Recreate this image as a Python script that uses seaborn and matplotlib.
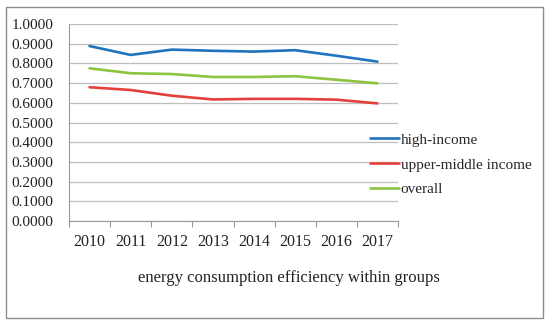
import matplotlib
matplotlib.use("Agg")
import matplotlib.pyplot as plt
import seaborn as sns
import pandas as pd
from matplotlib.patches import Rectangle
from matplotlib.lines import Line2D

years = ["2010", "2011", "2012", "2013", "2014", "2015", "2016", "2017"]
high_income = [0.888, 0.843, 0.870, 0.864, 0.860, 0.867, 0.839, 0.809]
upper_middle = [0.679, 0.665, 0.636, 0.617, 0.620, 0.620, 0.616, 0.597]
overall = [0.775, 0.750, 0.746, 0.731, 0.731, 0.735, 0.717, 0.699]
series_names = ["high-income", "upper-middle income", "overall"]
yticks = [0.0, 0.1, 0.2, 0.3, 0.4, 0.5, 0.6, 0.7, 0.8, 0.9, 1.0]
title = "energy consumption efficiency within groups"

colors = ["#1f74bd", "#e5403b", "#8cc43f"]

df = pd.concat([
    pd.DataFrame({"year": years, "value": vals, "series": name})
    for name, vals in zip(series_names, [high_income, upper_middle, overall])
])

sns.set_theme(style="white")
plt.rcParams["font.family"] = ["Liberation Serif", "DejaVu Serif"]

fig = plt.figure(figsize=(5.5, 3.27), dpi=100)
ax = fig.add_axes([69/550, 1-221/327, (398-69)/550, (221-24)/327])

sns.lineplot(data=df, x="year", y="value", hue="series", palette=colors,
             hue_order=series_names, linewidth=1.9, ax=ax, legend=False, sort=False)

ax.set_xlim(-0.5, 7.5)
ax.set_ylim(0, 1.0)
ax.set_yticks(yticks)
ax.set_yticklabels([f"{v:.4f}" for v in yticks], fontsize=11, color="#222222")
ax.set_xticks(range(len(years)))
ax.set_xticklabels(years, fontsize=11.5, color="#222222")
ax.set_xticks([i - 0.5 for i in range(len(years) + 1)], minor=True)
ax.tick_params(axis="x", which="major", length=0, pad=9)
ax.tick_params(axis="x", which="minor", length=4, color="#999999", width=0.8, bottom=True)
ax.tick_params(axis="y", length=0, pad=11)
ax.yaxis.grid(True, color="#bfbfbf", linewidth=0.9)
ax.set_axisbelow(True)
for s in ["top", "right"]:
    ax.spines[s].set_visible(False)
ax.spines["left"].set_color("#999999")
ax.spines["bottom"].set_color("#999999")
ax.spines["left"].set_linewidth(0.8)
ax.spines["bottom"].set_linewidth(0.8)
ax.set_xlabel("")
ax.set_ylabel("")

handles = [Line2D([0], [0], color=c, linewidth=1.9) for c in colors]
fig.legend(handles, series_names, loc="upper left", bbox_to_anchor=(364/550, 1-127/327),
           frameon=False, fontsize=11, handlelength=1.9, handletextpad=0.1,
           labelspacing=0.72, borderaxespad=0)

fig.text(289/550, 1-278/327, title, ha="center", va="center", fontsize=12, color="#222222")

fig.patches.append(Rectangle((6/550, 1-318/327), (543-6)/550, (318-7)/327,
                             transform=fig.transFigure, fill=False,
                             edgecolor="#8c8c8c", linewidth=1.0))

fig.savefig("out.png", dpi=100)
